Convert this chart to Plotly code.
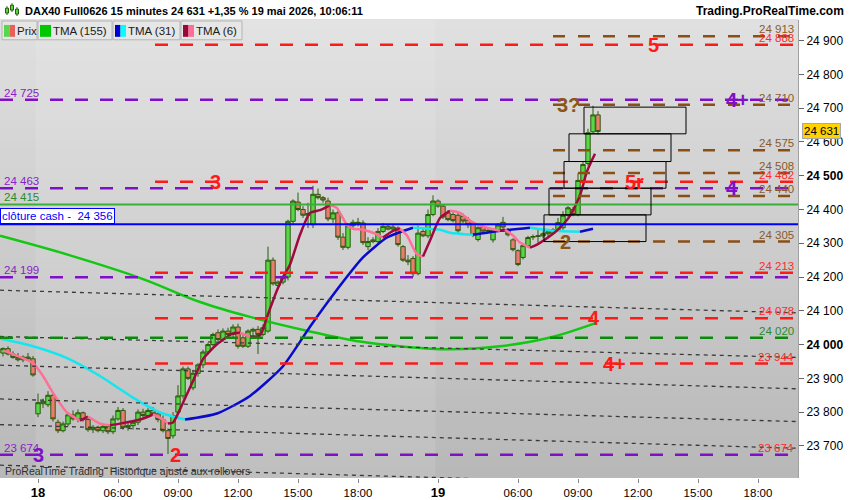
import plotly.graph_objects as go

# ------------------------------------------------------------------ DATA
# 15-minute bars. Sessions: Fri 15 (20:15-21:45), Mon 18 (02:00-21:45), Tue 19 (02:00-10:00)
sessions = [("15", -1, 20.25, 7), ("18", 0, 2.0, 80), ("19", 1, 2.0, 33)]

d15_open  = [23975, 23988, 23972, 23962, 23955, 23963, 23958]
d15_high  = [23992, 23995, 23980, 23975, 23968, 23975, 23966]
d15_low   = [23965, 23968, 23958, 23950, 23948, 23952, 23905]
d15_close = [23988, 23972, 23962, 23955, 23963, 23958, 23910]

d18_open = [23795, 23825, 23822, 23850, 23770, 23745, 23765, 23792, 23780, 23798,
            23778, 23748, 23755, 23745, 23758, 23742, 23780, 23805, 23755, 23760,
            23770, 23800, 23790, 23805, 23795, 23778, 23745, 23730, 23800, 23848,
            23928, 23872, 23915, 23940, 23978, 24000, 24035, 24015, 24040, 24030,
            24052, 24020, 23995, 24040, 24045, 24030, 24040, 24250, 24175, 24185,
            24200, 24365, 24422, 24400, 24383, 24355, 24445, 24435, 24425, 24372,
            24390, 24318, 24288, 24352, 24362, 24360, 24290, 24310, 24305, 24335,
            24350, 24342, 24345, 24290, 24250, 24255, 24210, 24335, 24322, 24385]
d18_high = [23855, 23840, 23862, 23858, 23778, 23772, 23800, 23805, 23808, 23802,
            23785, 23762, 23760, 23765, 23762, 23790, 23815, 23812, 23768, 23775,
            23808, 23810, 23812, 23815, 23800, 23790, 23752, 23800, 23880, 23935,
            23935, 23925, 23945, 23985, 24005, 24035, 24045, 24048, 24050, 24060,
            24062, 24030, 24045, 24050, 24055, 24060, 24290, 24258, 24190, 24205,
            24370, 24430, 24450, 24410, 24420, 24470, 24462, 24440, 24435, 24400,
            24400, 24330, 24360, 24370, 24375, 24368, 24318, 24318, 24345, 24360,
            24355, 24355, 24350, 24295, 24265, 24262, 24352, 24345, 24400, 24442]
d18_low  = [23785, 23812, 23815, 23772, 23738, 23740, 23758, 23775, 23770, 23772,
            23742, 23738, 23740, 23738, 23735, 23735, 23775, 23748, 23745, 23748,
            23762, 23785, 23785, 23790, 23770, 23740, 23676, 23722, 23795, 23840,
            23895, 23865, 23905, 23930, 23970, 23995, 24010, 24008, 24022, 24020,
            23988, 23990, 23990, 24025, 23972, 24025, 24035, 24175, 24165, 24178,
            24190, 24355, 24395, 24375, 24345, 24345, 24430, 24420, 24365, 24360,
            24310, 24280, 24282, 24340, 24350, 24295, 24280, 24300, 24298, 24330,
            24338, 24335, 24290, 24245, 24235, 24200, 24205, 24318, 24315, 24380]
d18_close = [23828, 23832, 23850, 23780, 23745, 23765, 23792, 23780, 23798, 23778,
             23748, 23755, 23745, 23758, 23742, 23780, 23805, 23755, 23760, 23770,
             23800, 23790, 23805, 23795, 23778, 23745, 23722, 23790, 23848, 23928,
             23900, 23915, 23940, 23978, 24000, 24030, 24015, 24040, 24030, 24052,
             23995, 23995, 24040, 24045, 24030, 24050, 24250, 24180, 24185, 24200,
             24365, 24425, 24400, 24383, 24388, 24445, 24435, 24428, 24372, 24390,
             24318, 24288, 24352, 24362, 24360, 24302, 24305, 24305, 24335, 24350,
             24342, 24348, 24296, 24250, 24245, 24210, 24330, 24322, 24385, 24425]

d19_open = [24425, 24410, 24390, 24385, 24383, 24380, 24368, 24360, 24311, 24348,
            24336, 24310, 24340, 24362, 24340, 24310, 24278, 24258, 24293, 24318,
            24320, 24322, 24328, 24330, 24340, 24346, 24383, 24400, 24385, 24486,
            24536, 24630, 24680]
d19_high = [24430, 24415, 24398, 24392, 24390, 24388, 24378, 24365, 24350, 24352,
            24345, 24345, 24360, 24378, 24345, 24315, 24282, 24298, 24322, 24326,
            24340, 24335, 24342, 24345, 24375, 24395, 24410, 24408, 24507, 24540,
            24639, 24707, 24691]
d19_low  = [24405, 24372, 24365, 24362, 24330, 24360, 24345, 24318, 24305, 24332,
            24328, 24302, 24335, 24340, 24320, 24276, 24232, 24252, 24288, 24310,
            24302, 24315, 24320, 24325, 24335, 24340, 24378, 24380, 24380, 24480,
            24530, 24625, 24622]
d19_close = [24410, 24378, 24370, 24367, 24337, 24366, 24355, 24325, 24346, 24336,
             24338, 24340, 24354, 24348, 24325, 24281, 24237, 24293, 24317, 24320,
             24322, 24328, 24334, 24340, 24361, 24383, 24405, 24385, 24486, 24533,
             24627, 24680, 24631]

# Triangular moving averages (traced), points as (session hour position, price)
tma155_t = [-1.9, 1.6, 5.25, 8.1, 10.6, 13.6, 16.1, 18.1, 20.6, 23.1, 25.6, 27.95]
tma155_p = [24322, 24264, 24194, 24126, 24082, 24039, 24009, 23995, 23986, 23995, 24021, 24065]

tma31_t = [-1.9, -0.25, 1.45, 3.1, 4.75, 6.1, 7.35, 8.95, 10.6, 12.25, 13.6, 14.75, 16.25,
           17.45, 18.45, 18.75, 20.1, 20.6, 21.75, 23.1, 24.6, 25.85, 27.1, 27.75]
tma31_p = [24018, 23995, 23960, 23907, 23843, 23799, 23778, 23796, 23848, 23936, 24053, 24147,
           24258, 24317, 24340, 24346, 24340, 24331, 24325, 24337, 24346, 24337, 24334, 24343]

tma6_t = [-1.75, -0.25, 0.25, 0.75, 1.45, 2.1, 2.5, 3.1, 3.6, 4.1, 5.1, 5.75, 6.25, 6.5, 6.75,
          7.25, 7.75, 8.25, 8.95, 9.75, 10.1, 10.6, 11.1, 11.45, 11.95, 12.25, 12.6, 13.1,
          13.6, 14.1, 14.6, 14.95, 15.45, 15.75, 16.25, 16.75, 17.25, 17.75, 18.1, 18.45,
          18.95, 19.25, 19.6, 20.1, 20.6, 21.1, 21.75, 22.45, 23.1, 23.35, 23.75, 24.1, 24.6,
          24.95, 25.75, 26.1, 26.6, 27.1, 27.45, 27.85]
tma6_p = [23983, 23945, 23907, 23857, 23799, 23775, 23787, 23766, 23761, 23766, 23778, 23793,
          23778, 23766, 23769, 23828, 23892, 23957, 24001, 24033, 24035, 24024, 24027, 24082,
          24161, 24199, 24237, 24325, 24390, 24398, 24413, 24404, 24354, 24343, 24340, 24331,
          24317, 24337, 24343, 24323, 24267, 24261, 24308, 24375, 24396, 24390, 24361, 24346,
          24337, 24340, 24323, 24302, 24287, 24296, 24328, 24346, 24381, 24442, 24513, 24565]

# Horizontal levels
purple_levels = [24725, 24463, 24199, 23674]
red_levels = [24888, 24482, 24213, 24078, 23944]
brown_levels = [24913, 24710, 24575, 24508, 24440, 24305]
green_dash_levels = [24020]
green_level = 24415
cash_close = 24356
last_price = 24631

# Sloping dotted channel lines: price at left edge and at right edge
channel_left = [24161, 24024, 23939, 23839, 23763, 23643]
channel_right = [24094, 23962, 23869, 23772, 23693, 23576]

# Boxes on day 19 (start hour, end hour, low, high)
box_start_h = [9.3, 8.55, 8.3, 7.55, 7.3]
box_end_h = [14.4, 13.65, 13.4, 12.65, 12.4]
box_low = [24624, 24542, 24463, 24384, 24305]
box_high = [24703, 24624, 24542, 24463, 24384]

# Wave labels: (text, price, session hour position, colour key)
wave_labels = [("5", 24888, 30.75, "red"), ("4+", 24725, 34.95, "purple"),
               ("3?", 24710, 26.5, "brown"), ("3", 24482, 8.85, "red"),
               ("5r", 24482, 29.8, "red"), ("4", 24463, 34.7, "purple"),
               ("2", 24305, 26.35, "brown"), ("4", 24078, 27.8, "red"),
               ("4+", 23944, 28.8, "red"), ("3", 23674, 0.0, "purple"),
               ("2", 23674, 6.85, "red")]

x_tick_pos = [0, 4, 7, 10, 13, 16, 20, 24, 27, 30, 33, 36]
x_tick_txt = ["<b><span style='font-size:13px'>18</span></b>", "06:00", "09:00", "12:00",
              "15:00", "18:00", "<b><span style='font-size:13px'>19</span></b>", "06:00",
              "09:00", "12:00", "15:00", "18:00"]

# ------------------------------------------------------------------ BUILD
opens = d15_open + d18_open + d19_open
highs = d15_high + d18_high + d19_high
lows = d15_low + d18_low + d19_low
closes = d15_close + d18_close + d19_close

bar_t = []
for day, idx, start, n in sessions:
    for k in range(n):
        bar_t.append(20 * idx + (start + 0.25 * k - 2.0))

FONT = "Liberation Sans, Arial, sans-serif"
C = dict(red="#FF1A1A", purple="#8010C8", brown="#8B4E14", green="#1E8C1E")
LBL = dict(red="#FF2A2A", purple="#8A22C8", brown="#8B5A2B", green="#2A8C2A")
XMIN, XMAX = -1.9, 38.0
YMIN, YMAX = 23605, 24961
PLOT_W, PLOT_TOP, PLOT_BOT = 798, 20, 483


def px(x):
    return x / PLOT_W


def py(y):
    return (PLOT_BOT - y) / (PLOT_BOT - PLOT_TOP)


def fmt(v):
    return f"{int(v) // 1000} {int(v) % 1000:03d}"


fig = go.Figure()

fig.add_trace(go.Candlestick(
    x=bar_t, open=opens, high=highs, low=lows, close=closes,
    increasing=dict(fillcolor="#58D848", line=dict(color="#2B5A0C", width=1)),
    decreasing=dict(fillcolor="#EF7B70", line=dict(color="#2B5A0C", width=1)),
    whiskerwidth=0, showlegend=False, hoverinfo="skip"))


def add_colored(ts, ps, up, down, width=2.5):
    segs = []
    cur = None
    st, sp = [ts[0]], [ps[0]]
    for i in range(1, len(ts)):
        d = "up" if ps[i] >= ps[i - 1] else "down"
        if cur is None:
            cur = d
        if d != cur:
            segs.append((cur, st, sp))
            st, sp = [ts[i - 1]], [ps[i - 1]]
            cur = d
        st.append(ts[i])
        sp.append(ps[i])
    segs.append((cur, st, sp))
    for d, st, sp in segs:
        fig.add_trace(go.Scatter(x=st, y=sp, mode="lines",
                                 line=dict(color=up if d == "up" else down, width=width,
                                           shape="spline", smoothing=0.6),
                                 showlegend=False, hoverinfo="skip"))


fig.add_trace(go.Scatter(x=tma155_t, y=tma155_p, mode="lines",
                         line=dict(color="#12C812", width=2.5, shape="spline", smoothing=1.0),
                         showlegend=False, hoverinfo="skip"))
add_colored(tma31_t, tma31_p, "#0A0ACC", "#14E6F0")
add_colored(tma6_t, tma6_p, "#A0093E", "#FF7098")

shapes = []
# background gradient
top_c, bot_c = (224, 224, 224), (184, 184, 184)
nb = 46
for k in range(nb):
    f = k / (nb - 1)
    c = tuple(int(round(top_c[j] + (bot_c[j] - top_c[j]) * f)) for j in range(3))
    shapes.append(dict(type="rect", xref="paper", yref="paper", x0=0, x1=1,
                       y0=1 - (k + 1) / nb, y1=1 - k / nb + 0.002,
                       fillcolor=f"rgb{c}", line=dict(width=0), layer="below"))
shapes.append(dict(type="rect", xref="x", yref="paper", x0=-0.125, x1=19.875, y0=0, y1=1,
                   fillcolor="rgba(255,255,255,0.10)", line=dict(width=0), layer="below"))

# dotted channel
for a, b in zip(channel_left, channel_right):
    shapes.append(dict(type="line", xref="x", yref="y", x0=XMIN, x1=XMAX, y0=a, y1=b,
                       line=dict(color="#3A3A3A", width=1.3, dash="4px,4px"), layer="above"))

# levels
for v in purple_levels:
    shapes.append(dict(type="line", xref="x", yref="y", x0=XMIN, x1=XMAX, y0=v, y1=v,
                       line=dict(color=C["purple"], width=2.5, dash="13px,12px"), layer="above"))
for v in red_levels:
    shapes.append(dict(type="line", xref="x", yref="y", x0=5.85, x1=XMAX, y0=v, y1=v,
                       line=dict(color=C["red"], width=2.5, dash="13px,12px"), layer="above"))
for v in brown_levels:
    shapes.append(dict(type="line", xref="x", yref="y", x0=25.75, x1=XMAX, y0=v, y1=v,
                       line=dict(color=C["brown"], width=2.5, dash="12px,13px"), layer="above"))
for v in green_dash_levels:
    shapes.append(dict(type="line", xref="x", yref="y", x0=XMIN, x1=XMAX, y0=v, y1=v,
                       line=dict(color="#0A8A0A", width=2.5, dash="13px,12px"), layer="above"))
shapes.append(dict(type="line", xref="x", yref="y", x0=XMIN, x1=XMAX, y0=green_level,
                   y1=green_level, line=dict(color="#38B038", width=2), layer="above"))
shapes.append(dict(type="line", xref="x", yref="y", x0=XMIN, x1=XMAX, y0=cash_close,
                   y1=cash_close, line=dict(color="#0000FF", width=2), layer="above"))

# boxes
for s, e, lo, hi in zip(box_start_h, box_end_h, box_low, box_high):
    shapes.append(dict(type="rect", xref="x", yref="y", x0=20 + s - 2, x1=20 + e - 2,
                       y0=lo, y1=hi, line=dict(color="#000000", width=1), layer="above"))

# legend row boxes
legend_items = [("Prix", ["#58D848", "#E8605A"], 2, 37),
                ("TMA (155)", ["#00C800"], 38, 112),
                ("TMA (31)", ["#0000CC", "#00FFFF"], 113, 180),
                ("TMA (6)", ["#99063A", "#FF6E96"], 181, 242)]
annotations = []
for name, cols, x0, x1 in legend_items:
    shapes.append(dict(type="rect", xref="paper", yref="paper", x0=px(x0), x1=px(x1),
                       y0=py(40), y1=py(21), fillcolor="#E6E6E6",
                       line=dict(color="#B4B4B4", width=1), layer="above"))
    n = len(cols)
    w = 11 / n
    for j, c in enumerate(cols):
        shapes.append(dict(type="rect", xref="paper", yref="paper",
                           x0=px(x0 + 2 + j * w), x1=px(x0 + 2 + (j + 1) * w),
                           y0=py(37), y1=py(25), fillcolor=c, line=dict(width=0),
                           layer="above"))
    annotations.append(dict(xref="paper", yref="paper", x=px(x0 + 13), y=py(31),
                            xanchor="left", yanchor="middle", text=name, showarrow=False,
                            font=dict(family=FONT, size=11.5, color="#202020")))

# header candle icon
for cx, w0, w1, b0, b1 in [(7, 15, 6, 13, 8), (12, 12, 3, 10, 5), (17, 16, 7, 14, 9)]:
    shapes.append(dict(type="line", xref="paper", yref="paper", x0=px(cx), x1=px(cx),
                       y0=py(w0), y1=py(w1), line=dict(color="#2B5A0C", width=1)))
    shapes.append(dict(type="rect", xref="paper", yref="paper", x0=px(cx - 1.5),
                       x1=px(cx + 1.5), y0=py(b0), y1=py(b1), fillcolor="#58D848",
                       line=dict(color="#2B5A0C", width=1)))

annotations.append(dict(xref="paper", yref="paper", x=px(23), y=py(10.5), xanchor="left",
                        yanchor="middle", showarrow=False,
                        text="<b>DAX40 Full0626 15 minutes 24 631 +1,35 % 19 mai 2026, 10:06:11</b>",
                        font=dict(family=FONT, size=11, color="#000000")))
annotations.append(dict(xref="paper", yref="paper", x=px(846), y=py(10.5), xanchor="right",
                        yanchor="middle", showarrow=False, text="<b>Trading.ProRealTime.com</b>",
                        font=dict(family=FONT, size=12, color="#000000")))
annotations.append(dict(xref="paper", yref="paper", x=px(3), y=py(476), xanchor="left",
                        yanchor="middle", showarrow=False,
                        text="ProRealTime Trading\u00a0 Historique ajusté aux rollovers",
                        font=dict(family=FONT, size=10.5, color="#303030")))

# right side level labels
right_labels = [(v, "brown") for v in brown_levels] + [(v, "red") for v in red_levels] + \
               [(v, "green") for v in green_dash_levels] + [(23674, "red")]
for v, k in right_labels:
    annotations.append(dict(xref="paper", yref="y", x=px(796), y=v, xanchor="right",
                            yanchor="bottom", yshift=-1, showarrow=False, text=fmt(v),
                            font=dict(family=FONT, size=11.5, color=LBL[k])))
# left labels
for v, k in [(24725, "purple"), (24463, "purple"), (green_level, "green"), (24199, "purple"),
             (23674, "purple")]:
    annotations.append(dict(xref="paper", yref="y", x=px(2), y=v, xanchor="left",
                            yanchor="bottom", yshift=-1, showarrow=False, text=fmt(v),
                            font=dict(family=FONT, size=11.5, color=LBL[k])))

annotations.append(dict(xref="paper", yref="y", x=0, y=cash_close, xanchor="left",
                        yanchor="bottom", showarrow=False,
                        text="clôture cash -\u00a0 " + fmt(cash_close), bgcolor="#FFFFFF",
                        bordercolor="#0000FF", borderwidth=1, borderpad=1,
                        font=dict(family=FONT, size=11.5, color="#0000FF")))

for txt, v, tpos, k in wave_labels:
    annotations.append(dict(xref="x", yref="y", x=tpos, y=v, xanchor="center",
                            yanchor="middle", showarrow=False, text=f"<b>{txt}</b>",
                            font=dict(family=FONT, size=20,
                                      color=C[k] if k != "brown" else "#8B5518")))

annotations.append(dict(xref="paper", yref="y", x=px(802), y=last_price, xanchor="left",
                        yanchor="middle", showarrow=False, text=fmt(last_price),
                        bgcolor="#FFD200", bordercolor="#A8A8A8", borderwidth=1, borderpad=1,
                        font=dict(family=FONT, size=11.5, color="#000000")))

ytv = list(range(23700, 25000, 100))
ytt = [f"<b>{fmt(v)}</b>" if v in (24000, 24500) else fmt(v) for v in ytv]

fig.update_layout(
    width=850, height=500, autosize=False,
    margin=dict(l=0, r=850 - PLOT_W, t=PLOT_TOP, b=500 - PLOT_BOT),
    paper_bgcolor="#FFFFFF", plot_bgcolor="#CCCCCC",
    boxgap=0.12, boxgroupgap=0.0,
    shapes=shapes, annotations=annotations, showlegend=False,
    font=dict(family=FONT, size=12, color="#000000"),
    xaxis=dict(range=[XMIN, XMAX], showgrid=False, zeroline=False, rangeslider=dict(visible=False),
               tickvals=x_tick_pos, ticktext=x_tick_txt, ticks="outside", ticklen=4,
               tickcolor="#888888", tickfont=dict(family=FONT, size=11.5, color="#000000"),
               showline=False, fixedrange=True),
    yaxis=dict(range=[YMIN, YMAX], side="right", showgrid=False, zeroline=False,
               tickvals=ytv, ticktext=ytt, ticks="outside", ticklen=5, tickcolor="#666666",
               tickfont=dict(family=FONT, size=12, color="#000000"),
               showline=True, linecolor="#A0A0A0", linewidth=1, fixedrange=True),
)

fig.write_html("out.html", config={"displayModeBar": False},
               post_script="document.body.style.margin='0';document.body.style.overflow='hidden';")
